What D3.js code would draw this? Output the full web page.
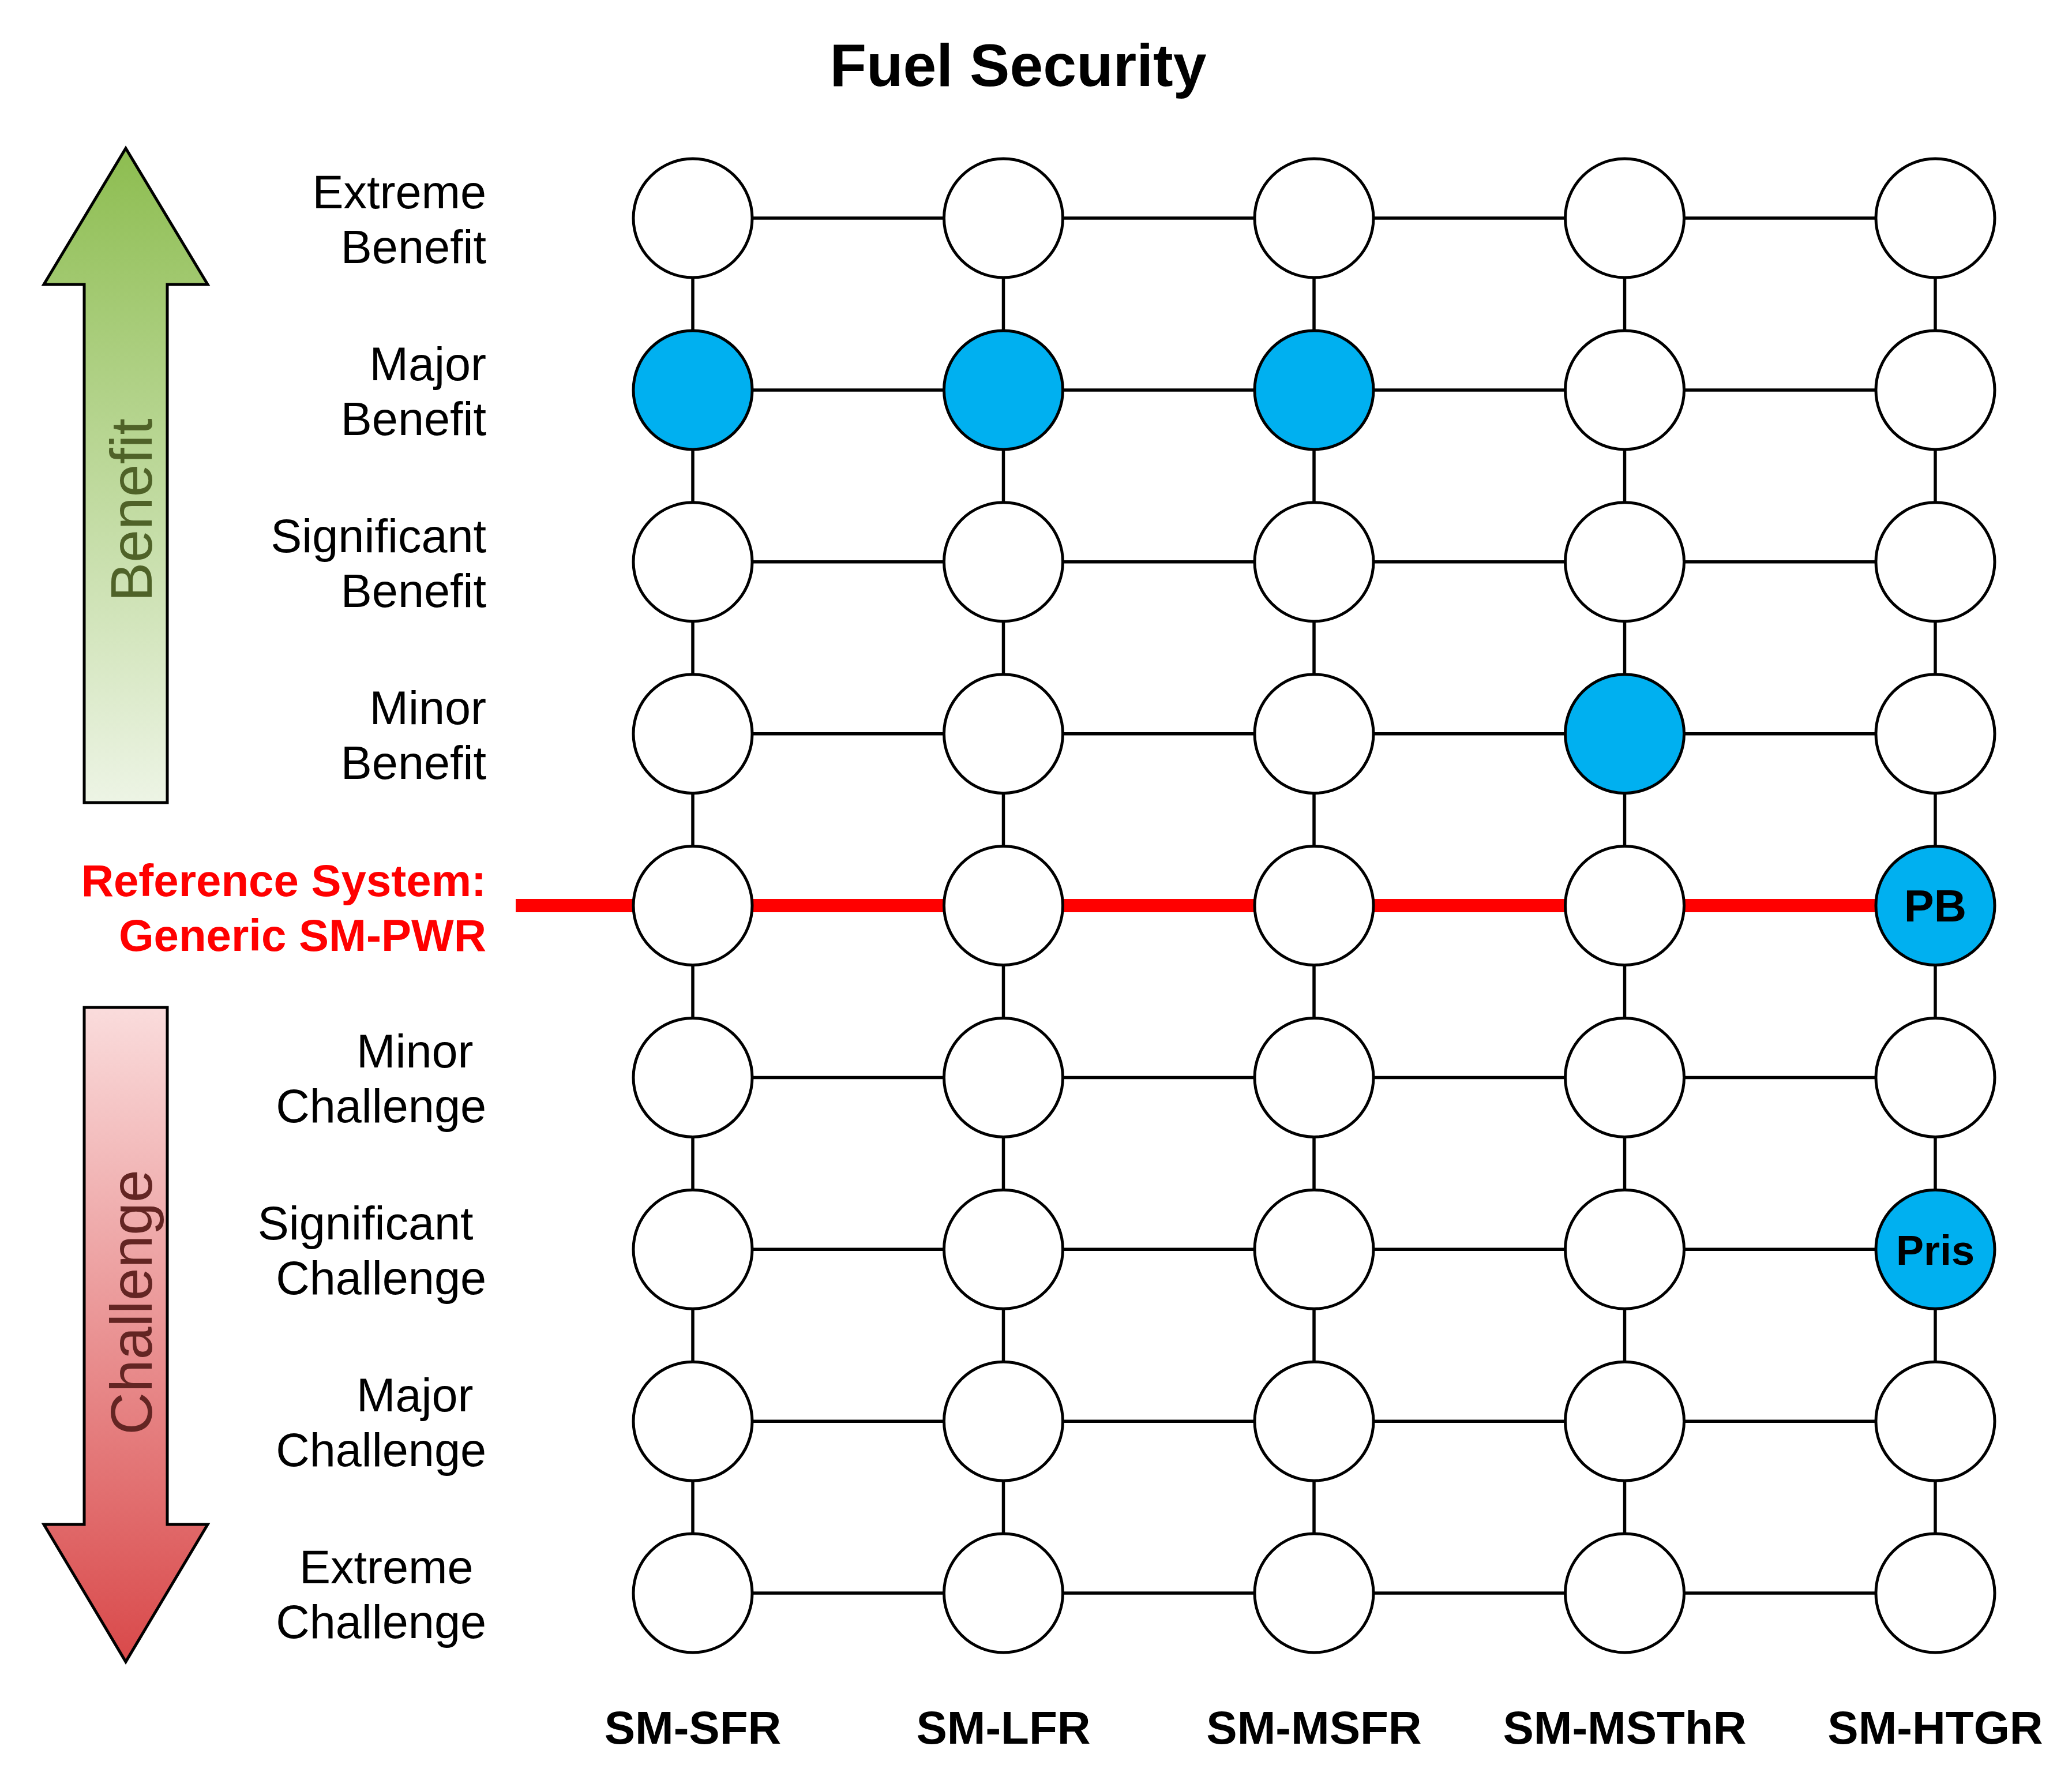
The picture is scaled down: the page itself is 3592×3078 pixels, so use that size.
<!DOCTYPE html>
<html>
<head>
<meta charset="utf-8">
<script src="https://cdn.jsdelivr.net/npm/d3@7"></script>
<style>
  html, body { margin: 0; padding: 0; background: #fff; }
  svg { display: block; font-family: "Liberation Sans", Arial, sans-serif; }
</style>
</head>
<body>
<div id="chart"></div>
<script>
// Fuel Security — rating grid
const technologies = ['SM-SFR', 'SM-LFR', 'SM-MSFR', 'SM-MSThR', 'SM-HTGR'];

const levels = [
  'Extreme Benefit', 'Major Benefit', 'Significant Benefit', 'Minor Benefit',
  'Reference',
  'Minor Challenge', 'Significant Challenge', 'Major Challenge', 'Extreme Challenge'
];

// row labels, two lines each (challenge rows carry a trailing space like the original)
const levelLines = [
  ['Extreme', 'Benefit'], ['Major', 'Benefit'], ['Significant', 'Benefit'], ['Minor', 'Benefit'],
  ['Reference System:', 'Generic SM-PWR'],
  ['Minor\u00a0', 'Challenge'], ['Significant\u00a0', 'Challenge'], ['Major\u00a0', 'Challenge'], ['Extreme\u00a0', 'Challenge']
];

// filled ratings
const ratingTech  = ['SM-SFR', 'SM-LFR', 'SM-MSFR', 'SM-MSThR', 'SM-HTGR', 'SM-HTGR'];
const ratingLevel = ['Major Benefit', 'Major Benefit', 'Major Benefit', 'Minor Benefit', 'Reference', 'Significant Challenge'];
const ratingLabel = ['', '', '', '', 'PB', 'Pris'];

const referenceLevel = 'Reference';

const width = 3592, height = 3078;
const R = 103;

const svg = d3.select('#chart').append('svg')
  .attr('width', width)
  .attr('height', height);

const x = d3.scalePoint().domain(technologies).range([1201, 3355]);
const y = d3.scalePoint().domain(levels).range([378, 2761]);

// Gradients for arrows
const defs = svg.append('defs');
const gGreen = defs.append('linearGradient').attr('id', 'gradGreen')
  .attr('x1', 0).attr('y1', 0).attr('x2', 0).attr('y2', 1);
gGreen.append('stop').attr('offset', '0%').attr('stop-color', '#8dbd50');
gGreen.append('stop').attr('offset', '100%').attr('stop-color', '#edf4e5');
const gRed = defs.append('linearGradient').attr('id', 'gradRed')
  .attr('x1', 0).attr('y1', 0).attr('x2', 0).attr('y2', 1);
gRed.append('stop').attr('offset', '0%').attr('stop-color', '#fadcdc');
gRed.append('stop').attr('offset', '100%').attr('stop-color', '#d9494a');

// Title
svg.append('text')
  .attr('x', 1765).attr('y', 149)
  .attr('text-anchor', 'middle')
  .attr('font-size', 104)
  .attr('font-weight', 'bold')
  .attr('fill', '#000')
  .text('Fuel Security');

// Arrows
const ax = 218, shaftHalf = 72, headHalf = 142;
const upArrow = [
  [ax, 257], [ax + headHalf, 493], [ax + shaftHalf, 493], [ax + shaftHalf, 1391],
  [ax - shaftHalf, 1391], [ax - shaftHalf, 493], [ax - headHalf, 493]
];
const downArrow = [
  [ax - shaftHalf, 1746], [ax + shaftHalf, 1746], [ax + shaftHalf, 2642], [ax + headHalf, 2642],
  [ax, 2880], [ax - headHalf, 2642], [ax - shaftHalf, 2642]
];
svg.append('path')
  .attr('d', d3.line()(upArrow) + 'Z')
  .attr('fill', 'url(#gradGreen)')
  .attr('stroke', '#000').attr('stroke-width', 5).attr('stroke-linejoin', 'miter');
svg.append('path')
  .attr('d', d3.line()(downArrow) + 'Z')
  .attr('fill', 'url(#gradRed)')
  .attr('stroke', '#000').attr('stroke-width', 5).attr('stroke-linejoin', 'miter');

svg.append('text')
  .attr('transform', `translate(263,884) rotate(-90)`)
  .attr('text-anchor', 'middle')
  .attr('font-size', 102)
  .attr('fill', '#4f6228')
  .text('Benefit');
svg.append('text')
  .attr('transform', `translate(263,2257) rotate(-90)`)
  .attr('text-anchor', 'middle')
  .attr('font-size', 102)
  .attr('fill', '#632523')
  .text('Challenge');

// Grid lines
const grid = svg.append('g');
grid.selectAll('line.h')
  .data(levels)
  .join('line')
  .attr('class', 'h')
  .attr('x1', x(technologies[0])).attr('x2', x(technologies[technologies.length - 1]))
  .attr('y1', d => y(d)).attr('y2', d => y(d))
  .attr('stroke', '#000').attr('stroke-width', 5.5);
grid.selectAll('line.v')
  .data(technologies)
  .join('line')
  .attr('class', 'v')
  .attr('x1', d => x(d)).attr('x2', d => x(d))
  .attr('y1', y(levels[0])).attr('y2', y(levels[levels.length - 1]))
  .attr('stroke', '#000').attr('stroke-width', 5.5);

// Reference line
const refIdx = ratingLevel.indexOf(referenceLevel);
svg.append('line')
  .attr('x1', 894).attr('x2', x(ratingTech[refIdx]))
  .attr('y1', y(referenceLevel)).attr('y2', y(referenceLevel))
  .attr('stroke', '#ff0000').attr('stroke-width', 23);

// Circles
const cells = [];
levels.forEach(l => technologies.forEach(t => {
  const k = ratingTech.findIndex((rt, i) => rt === t && ratingLevel[i] === l);
  cells.push({ tech: t, level: l, filled: k >= 0, label: k >= 0 ? ratingLabel[k] : '' });
}));

const node = svg.append('g')
  .selectAll('g')
  .data(cells)
  .join('g')
  .attr('transform', d => `translate(${x(d.tech)},${y(d.level)})`);

node.append('circle')
  .attr('r', R)
  .attr('fill', d => d.filled ? '#00b0f0' : '#fff')
  .attr('stroke', '#000')
  .attr('stroke-width', 5);

node.filter(d => d.label)
  .append('text')
  .attr('text-anchor', 'middle')
  .attr('dy', 27)
  .attr('font-size', d => d.label === 'PB' ? 78 : 72)
  .attr('font-weight', 'bold')
  .attr('fill', '#000')
  .text(d => d.label);

// Row labels
const labelX = 843;
const rowLabel = svg.append('g')
  .selectAll('text')
  .data(levels)
  .join('text')
  .attr('x', labelX)
  .attr('y', d => y(d))
  .attr('text-anchor', 'end')
  .attr('font-size', d => d === referenceLevel ? 78 : 81)
  .attr('font-weight', d => d === referenceLevel ? 'bold' : 'normal')
  .attr('fill', d => d === referenceLevel ? '#ff0000' : '#000')
  .style('white-space', 'pre');

rowLabel.each(function(d, i) {
  const t = d3.select(this);
  t.append('tspan').attr('x', labelX).attr('dy', -17).text(levelLines[i][0]);
  t.append('tspan').attr('x', labelX).attr('dy', 95).text(levelLines[i][1]);
});

// Column labels
svg.append('g')
  .selectAll('text')
  .data(technologies)
  .join('text')
  .attr('x', d => x(d))
  .attr('y', 3022)
  .attr('text-anchor', 'middle')
  .attr('font-size', 80)
  .attr('font-weight', 'bold')
  .attr('fill', '#000')
  .text(d => d);
</script>
</body>
</html>
